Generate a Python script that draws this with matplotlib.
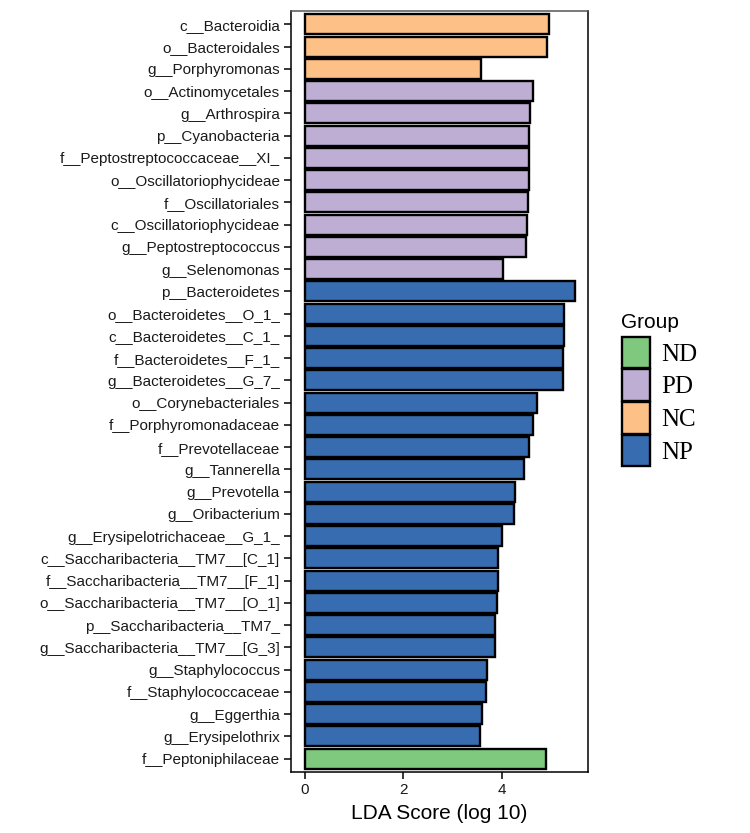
import matplotlib
matplotlib.use("Agg")
import matplotlib.pyplot as plt
from matplotlib.patches import Patch

features = [
    "c__Bacteroidia", "o__Bacteroidales", "g__Porphyromonas",
    "o__Actinomycetales", "g__Arthrospira", "p__Cyanobacteria",
    "f__Peptostreptococcaceae__XI_", "o__Oscillatoriophycideae", "f__Oscillatoriales",
    "c__Oscillatoriophycideae", "g__Peptostreptococcus", "g__Selenomonas",
    "p__Bacteroidetes", "o__Bacteroidetes__O_1_", "c__Bacteroidetes__C_1_",
    "f__Bacteroidetes__F_1_", "g__Bacteroidetes__G_7_", "o__Corynebacteriales",
    "f__Porphyromonadaceae", "f__Prevotellaceae", "g__Tannerella",
    "g__Prevotella", "g__Oribacterium", "g__Erysipelotrichaceae__G_1_",
    "c__Saccharibacteria__TM7__[C_1]", "f__Saccharibacteria__TM7__[F_1]",
    "o__Saccharibacteria__TM7__[O_1]", "p__Saccharibacteria__TM7_",
    "g__Saccharibacteria__TM7__[G_3]", "g__Staphylococcus", "f__Staphylococcaceae",
    "g__Eggerthia", "g__Erysipelothrix", "f__Peptoniphilaceae",
]
lda = [
    4.95, 4.91, 3.57,
    4.63, 4.56, 4.54, 4.53, 4.53, 4.51, 4.49, 4.47, 4.01,
    5.46, 5.25, 5.25, 5.23, 5.22, 4.70, 4.62, 4.53, 4.43, 4.26, 4.23, 3.99,
    3.91, 3.91, 3.89, 3.86, 3.86, 3.70, 3.68, 3.58, 3.54,
    4.89,
]
groups = ["NC"] * 3 + ["PD"] * 9 + ["NP"] * 21 + ["ND"]
legend_order = ["ND", "PD", "NC", "NP"]
palette = {"ND": "#7FC97F", "PD": "#BEAED4", "NC": "#FDC086", "NP": "#386CB0"}

fig = plt.figure(figsize=(7.5, 8.33), dpi=100)
W, H = 750, 833
ax = fig.add_axes([291 / W, 1 - 772 / H, (588 - 291) / W, (772 - 11) / H])

ypos = list(range(len(features)))
ax.barh(ypos, lda, height=0.9, color=[palette[g] for g in groups],
        edgecolor="black", linewidth=1.7)
ax.set_ylim(len(features) - 0.4, -0.6)
mx = max(lda)
ax.set_xlim(-0.05 * mx, mx * 1.05)
ax.set_yticks(ypos)
ax.set_yticklabels(features, fontsize=11, family="Liberation Sans", color="#1a1a1a")
ax.set_xticks([0, 2, 4])
ax.set_xticklabels(["0", "2", "4"], fontsize=11, family="Liberation Sans", color="#1a1a1a")
ax.tick_params(axis="y", length=5, width=1.1, color="black", pad=3)
ax.tick_params(axis="x", length=5, width=1.1, color="black", pad=3)
for s in ax.spines.values():
    s.set_color("black")
    s.set_linewidth(1.1)
ax.spines["top"].set_color("#555555")
ax.set_xlabel("LDA Score (log 10)", fontsize=15, family="Liberation Sans", labelpad=5)

handles = [Patch(facecolor=palette[g], edgecolor="black", linewidth=1.7) for g in legend_order]
leg = fig.legend(handles, legend_order, loc="upper left",
                 bbox_to_anchor=(614 / W, 1 - 306 / H),
                 frameon=False, prop={"family": "Liberation Serif", "size": 18},
                 title="Group", title_fontproperties={"family": "Liberation Sans", "size": 15},
                 handlelength=1.15, handleheight=1.55, labelspacing=0.06,
                 handletextpad=0.45, borderaxespad=0, borderpad=0.3)
leg._legend_box.align = "left"
leg._legend_box.sep = 3

fig.savefig("out.png", dpi=100)
